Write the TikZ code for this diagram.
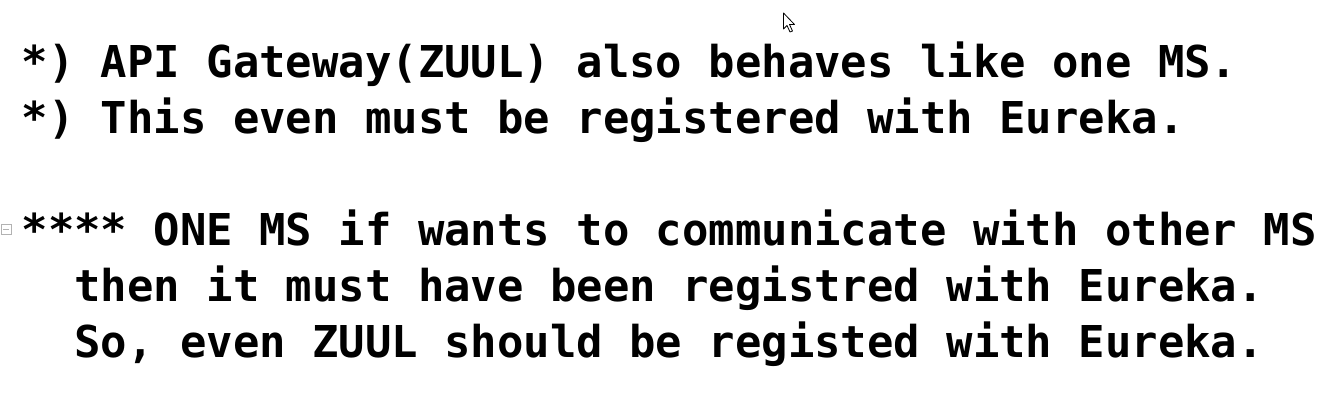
\documentclass[tikz,border=0pt]{standalone}
\usepackage{fontspec}
\setmonofont{DejaVu Sans Mono}
\begin{document}
\begin{tikzpicture}[x=1pt,y=-1pt,
  txtline/.style={anchor=base west,inner sep=0pt,font=\fontsize{43.9}{52}\selectfont\ttfamily\bfseries}]
\useasboundingbox (0,0) rectangle (1339,400);
\fill[white] (0,0) rectangle (1339,400);
\node[txtline] (l1) at (21.5,77.5) {*) API Gateway(ZUUL) also behaves like one MS.};
\node[txtline] (l2) at (21.5,133.5) {*) This even must be registered with Eureka.};
\node[txtline] (l3) at (21.5,245.5) {**** ONE MS if wants to communicate with other MS};
\node[txtline] (l4) at (74.3,301.5) {then it must have been registred with Eureka.};
\node[txtline] (l5) at (74.3,357.5) {So, even ZUUL should be registed with Eureka.};
% fold marker
\draw[gray!60,line width=0.9pt,fill=white] (1,224.5) rectangle (11,234.5);
\draw[gray!60,line width=0.9pt] (3,229.5) -- (9,229.5);
% mouse pointer
\draw[black,fill=white,line width=0.8pt,line join=round] (783.5,13) -- ++(0,16) -- ++(3.5,-3.5)
  -- ++(3,6.5) -- ++(2.5,-1) -- ++(-3,-6.5) -- ++(5,0) -- cycle;
\end{tikzpicture}
\end{document}
